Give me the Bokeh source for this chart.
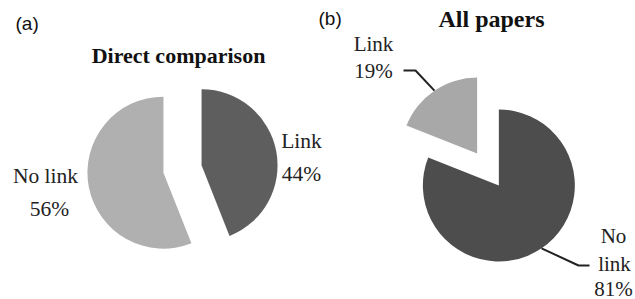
import math
from bokeh.plotting import figure
from bokeh.models import Range1d, ColumnDataSource
from bokeh.core.properties import value
from bokeh.embed import file_html
from bokeh.resources import INLINE

# ---- data ----
panel_tags = ["(a)", "(b)"]
titles = ["Direct comparison", "All papers"]
categories_a = ["Link", "No link"]
values_a = [44, 56]
categories_b = ["No link", "Link"]
values_b = [81, 19]

# ---- layout / style ----
W, H = 635, 299
IMG_H = 299


def Y(iy):
    return IMG_H - iy


p = figure(width=W, height=H, x_range=Range1d(0, W), y_range=Range1d(0, H),
           output_backend="svg", toolbar_location=None, min_border=0)
p.axis.visible = False
p.grid.visible = False
p.outline_line_color = None
p.background_fill_color = "white"
p.border_fill_color = "white"

SERIF = value("Liberation Serif")
SANS = value("Liberation Sans")


def pie(vals, cats, colors, center, r, explode):
    total = float(sum(vals))
    cum = 0.0
    d = dict(x=[], y=[], s=[], e=[], c=[], cat=[])
    arcpts = {}
    for v, cat, col in zip(vals, cats, colors):
        t1 = cum / total * 2 * math.pi
        t2 = (cum + v) / total * 2 * math.pi
        mid = (t1 + t2) / 2
        cx = center[0] + math.sin(mid) * explode
        cy = Y(center[1]) + math.cos(mid) * explode
        d["x"].append(cx)
        d["y"].append(cy)
        d["s"].append(math.pi / 2 - t2)
        d["e"].append(math.pi / 2 - t1)
        d["c"].append(col)
        d["cat"].append(cat)
        arcpts[cat] = (cx + r * math.sin(mid), cy + r * math.cos(mid))
        cum += v
    src = ColumnDataSource(d)
    p.wedge(x="x", y="y", radius=r, start_angle="s", end_angle="e",
            fill_color="c", line_color=None, source=src)
    return arcpts


pct_a = [round(v / sum(values_a) * 100) for v in values_a]
pct_b = [round(v / sum(values_b) * 100) for v in values_b]

pie(values_a, categories_a, ["#5e5e5e", "#b0b0b0"], (182, 168.5), 76, 19.4)
arc_b = pie(values_b, categories_b, ["#4d4d4d", "#a8a8a8"], (487.5, 169), 76, 19.3)

# panel tags
p.text(x=[15, 318], y=[Y(23), Y(18)], text=panel_tags, text_font=SANS,
       text_font_size=value("19px"), text_align="left", text_baseline="middle",
       text_color="#111111")
# titles
p.text(x=[178], y=[Y(55)], text=[titles[0]], text_font=SERIF,
       text_font_size=value("22px"), text_font_style="bold", text_align="center",
       text_baseline="middle", text_color="#111111")
p.text(x=[491], y=[Y(18)], text=[titles[1]], text_font=SERIF,
       text_font_size=value("24px"), text_font_style="bold", text_align="center",
       text_baseline="middle", text_color="#111111")

# labels (a)
p.text(x=[301, 301, 45, 49], y=[Y(140), Y(173), Y(175), Y(208)],
       text=[categories_a[0], f"{pct_a[0]}%", categories_a[1], f"{pct_a[1]}%"],
       text_font=SERIF, text_font_size=value("21.5px"), text_align="center",
       text_baseline="middle", text_color="#222222")

# labels (b)
nl_words = categories_b[0].split(" ")
p.text(x=[373, 373, 613, 614, 613], y=[Y(43), Y(70), Y(235), Y(263), Y(288)],
       text=[categories_b[1], f"{pct_b[1]}%", nl_words[0], nl_words[1], f"{pct_b[0]}%"],
       text_font=SERIF, text_font_size=value("21px"), text_align="center",
       text_baseline="middle", text_color="#222222")

# leader lines (b)
lx, ly = arc_b[categories_b[1]]
p.line(x=[lx, 415, 403], y=[ly, Y(70), Y(70)], line_color="#222222", line_width=2)
dx, dy = arc_b[categories_b[0]]
p.line(x=[dx, 578, 589], y=[dy, Y(265), Y(265)], line_color="#222222", line_width=2)

open("out.html", "w").write(file_html(p, INLINE))
